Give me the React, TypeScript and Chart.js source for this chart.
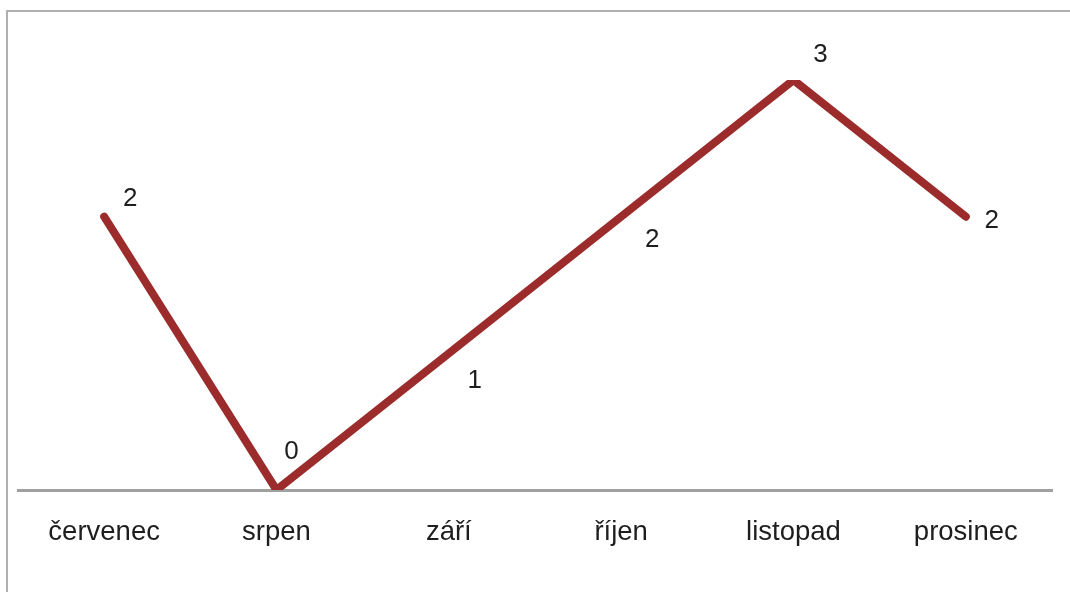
import React, { useEffect, useRef } from "react";
import { Chart, registerables } from "chart.js";

Chart.register(...registerables);

const categories = ["červenec", "srpen", "září", "říjen", "listopad", "prosinec"];
const values = [2, 0, 1, 2, 3, 2];
const valueLabels = ["2", "0", "1", "2", "3", "2"];

const FONT = "'Liberation Sans', Arial, sans-serif";

if (typeof document !== "undefined") {
  document.body.style.margin = "0";
}

const framePlugin = {
  id: "frame",
  beforeDraw(chart: any) {
    const ctx = chart.ctx;
    ctx.save();
    ctx.strokeStyle = "#b0b0b0";
    ctx.lineWidth = 2;
    ctx.beginPath();
    ctx.moveTo(7, chart.height);
    ctx.lineTo(7, 11);
    ctx.lineTo(chart.width, 11);
    ctx.stroke();
    ctx.restore();
  },
};

const pointLabelPlugin = {
  id: "pointLabels",
  afterDatasetsDraw(chart: any, _args: any, opts: any) {
    const ctx = chart.ctx;
    const meta = chart.getDatasetMeta(0);
    const offsets: number[][] = opts.offsets || [];
    ctx.save();
    ctx.font = `${opts.size || 22}px ${FONT}`;
    ctx.fillStyle = opts.color || "#222";
    ctx.textAlign = "center";
    ctx.textBaseline = "middle";
    meta.data.forEach((el: any, i: number) => {
      const off = offsets[i] || [24, -20];
      ctx.fillText(valueLabels[i], el.x + off[0], el.y + off[1]);
    });
    ctx.restore();
  },
};

export default function App() {
  const ref = useRef<HTMLCanvasElement | null>(null);
  useEffect(() => {
    document.body.style.margin = "0";
    if (!ref.current) return;
    const chart = new Chart(ref.current, {
      type: "line",
      data: {
        labels: categories,
        datasets: [
          {
            data: values,
            borderColor: "#9c2c2c",
            borderWidth: 8,
            borderCapStyle: "round",
            borderJoinStyle: "round",
            pointRadius: 0,
            tension: 0,
            fill: false,
          },
        ],
      },
      options: {
        responsive: false,
        animation: false,
        layout: { padding: { top: 80, left: 18, right: 18, bottom: 17 } },
        plugins: {
          legend: { display: false },
          tooltip: { enabled: false },
          pointLabels: {
            size: 26,
            color: "#1e1e1e",
            offsets: [
              [26, -18],
              [15, -38],
              [26, 27],
              [31, 23],
              [27, -25],
              [26, 4],
            ],
          },
        } as any,
        scales: {
          x: {
            offset: true,
            grid: { display: true, drawOnChartArea: false, drawTicks: false },
            border: { display: true, color: "#a0a0a0", width: 3 },
            ticks: {
              padding: 26,
              color: "#1e1e1e",
              font: { size: 27.5, family: FONT },
              maxRotation: 0,
              autoSkip: false,
            },
          },
          y: {
            display: false,
            min: 0,
            max: 3,
          },
        },
      },
      plugins: [framePlugin, pointLabelPlugin],
    });
    return () => chart.destroy();
  }, []);
  return (
    <div style={{ width: 1070, height: 592, overflow: "hidden" }}>
      <canvas
        ref={ref}
        width={1070}
        height={592}
        style={{ display: "block", width: 1070, height: 592 }}
      />
    </div>
  );
}
